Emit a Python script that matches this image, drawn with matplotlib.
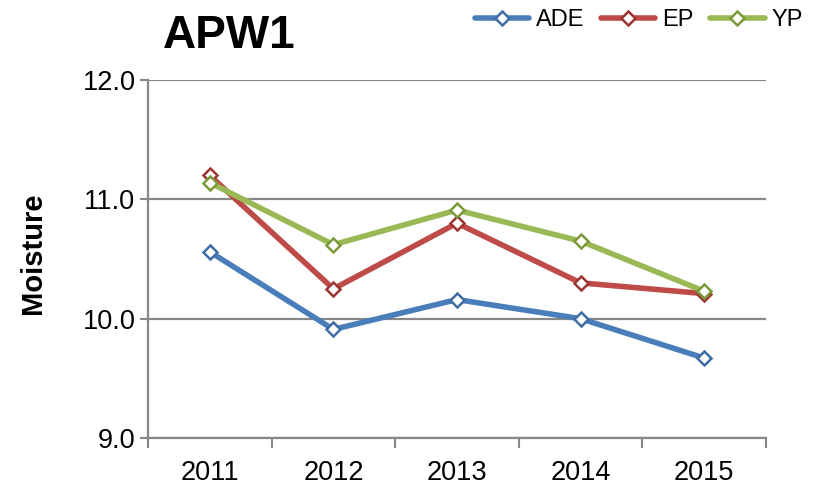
import matplotlib
matplotlib.use("Agg")
import matplotlib.pyplot as plt
import numpy as np

plt.rcParams['font.family'] = ['Liberation Sans', 'DejaVu Sans']

years = ['2011', '2012', '2013', '2014', '2015']
ade = [10.56, 9.91, 10.16, 10.00, 9.67]
ep = [11.20, 10.25, 10.80, 10.30, 10.21]
yp = [11.14, 10.62, 10.91, 10.65, 10.23]

series = [
    ('ADE', ade, '#4A7EBB', '#3E6DA6'),
    ('EP', ep, '#BE4B48', '#9C3532'),
    ('YP', yp, '#98B954', '#7A9A3A'),
]
GRIS = '#878787'

fig = plt.figure(figsize=(8.2, 4.91), dpi=100)
ax = fig.add_axes([148 / 820, 1 - 438 / 491, 618 / 820, 358 / 491])

x = np.arange(len(years))
for nome, vals, cor, borda in series:
    ax.plot(x, vals, color=cor, lw=4, marker='D', ms=7, mfc='white',
            mec=borda, mew=1.8, label=nome, solid_capstyle='round')

ax.set_xlim(-0.5, len(years) - 0.5)
ax.set_ylim(9.0, 12.0)
ax.set_yticks([9.0, 10.0, 11.0, 12.0])
ax.set_yticklabels([f'{v:.1f}' for v in [9.0, 10.0, 11.0, 12.0]])
ax.set_xticks(x)
ax.set_xticklabels(years)
# ticks entre as categorias
ax.set_xticks(np.arange(-0.5, len(years), 1), minor=True)
ax.tick_params(axis='x', which='major', length=0, labelsize=19.5, pad=16)
ax.tick_params(axis='x', which='minor', length=7, width=1.5, color=GRIS, direction='out')
ax.tick_params(axis='y', length=6, width=1.5, color=GRIS, labelsize=19.5, pad=3)

ax.grid(axis='y', color=GRIS, lw=1.6)
ax.set_axisbelow(True)
for lado in ['top', 'right']:
    ax.spines[lado].set_visible(False)
for lado in ['left', 'bottom']:
    ax.spines[lado].set_color(GRIS)
    ax.spines[lado].set_linewidth(1.6)

# rótulo do eixo y posicionado à mão
fig.text(33 / 820, 1 - 253 / 491, 'Moisture', fontsize=21, fontweight='bold',
         rotation=90, ha='center', va='center')

fig.text(163 / 820, 1 - 48 / 491, 'APW1', fontsize=33, fontweight='bold',
         ha='left', va='baseline')

fig.legend(loc='center right', bbox_to_anchor=(803 / 820, 1 - 20 / 491), ncol=3,
           frameon=False, fontsize=17, handlelength=2.3, handletextpad=0.3,
           columnspacing=0.7, borderaxespad=0, borderpad=0)

fig.savefig('out.png', dpi=100)
